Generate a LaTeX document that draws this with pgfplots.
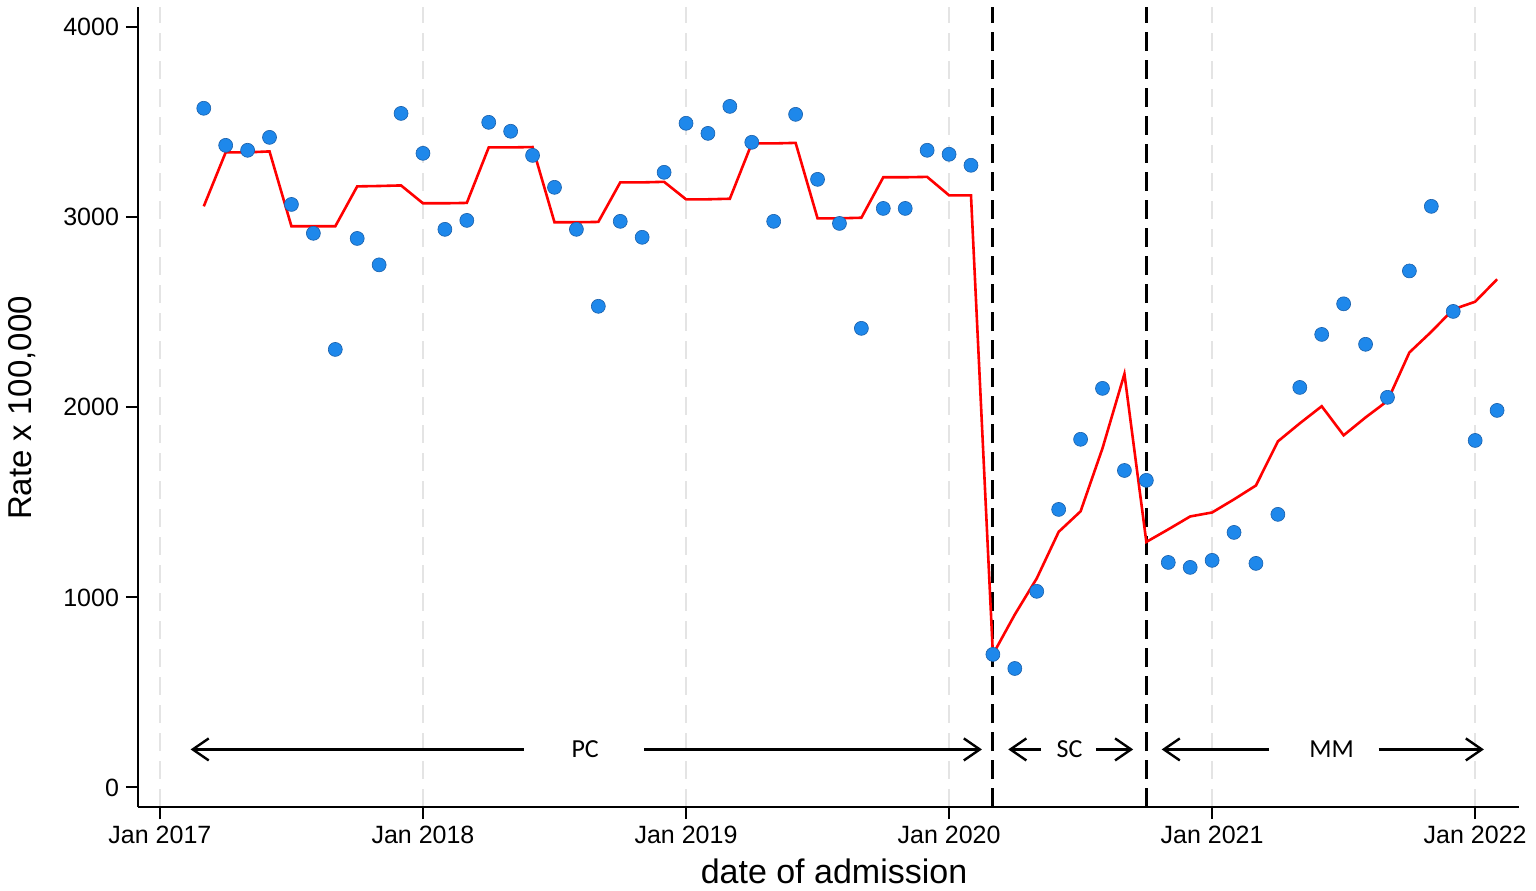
\documentclass[border=0pt]{standalone}
\usepackage{fontspec}
\setmainfont{Liberation Sans}
\newfontfamily\calibri{Carlito}
\usepackage{pgfplots}
\usepackage{pgfplotstable}
\pgfplotsset{compat=1.18}
\usetikzlibrary{arrows.meta}
\definecolor{dotblue}{RGB}{30,136,235}
\definecolor{dotedge}{RGB}{25,95,170}
\definecolor{gridgray}{RGB}{228,228,228}

\pgfplotstableread{
m v
2 3574
3 3379
4 3353
5 3421
6 3068
7 2916
8 2305
9 2889
10 2750
11 3547
12 3337
13 2937
14 2984
15 3500
16 3453
17 3326
18 3158
19 2937
20 2532
21 2979
22 2895
23 3237
24 3495
25 3442
26 3584
27 3395
28 2979
29 3542
30 3200
31 2968
32 2416
33 3047
34 3047
35 3353
36 3332
37 3274
38 700
39 626
40 1032
41 1463
42 1832
43 2100
44 1668
45 1616
46 1184
47 1158
48 1195
49 1342
50 1179
51 1437
52 2105
53 2384
54 2545
55 2332
56 2053
57 2718
58 3058
59 2505
60 1826
61 1984
}\observed

\pgfplotstableread{
m v
2 3058
3 3342
4 3342
5 3347
6 2953
7 2953
8 2953
9 3163
10 3165
11 3168
12 3074
13 3074
14 3076
15 3368
16 3368
17 3370
18 2974
19 2974
20 2976
21 3184
22 3184
23 3187
24 3095
25 3095
26 3098
27 3389
28 3389
29 3392
30 2995
31 2995
32 2998
33 3211
34 3211
35 3213
36 3116
37 3116
38 700
39 910
40 1100
41 1345
42 1453
43 1785
44 2176
45 1292
46 1358
47 1426
48 1447
49 1516
50 1589
51 1821
52 1916
53 2006
54 1853
55 1947
56 2034
57 2289
58 2398
59 2516
60 2556
61 2674
}\fitted

\begin{document}
\begin{tikzpicture}
\begin{axis}[
  at={(0,0)}, anchor=south west,
  scale only axis, width=690.5pt, height=400pt,
  xmin=-1, xmax=62, ymin=-103, ymax=4107,
  axis x line*=bottom, axis y line*=left,
  axis line style={line width=1pt, -},
  xtick={0,12,24,36,48,60},
  xticklabels={Jan 2017,Jan 2018,Jan 2019,Jan 2020,Jan 2021,Jan 2022},
  ytick={0,1000,2000,3000,4000},
  tick align=outside, major tick length=6pt,
  tick style={line width=1pt, black},
  /pgf/number format/1000 sep={},
  /pgf/number format/assume math mode=true,
  ticklabel style={font=\fontsize{12.5}{15}\selectfont},
  xmajorgrids, grid style={gridgray, line width=1pt, dash pattern=on 9pt off 5pt},
  clip=false,
]
% reference lines
\draw[black, line width=1.5pt, dash pattern=on 9.5pt off 4.5pt] (axis cs:38,-103) -- (axis cs:38,4107);
\draw[black, line width=1.5pt, dash pattern=on 9.5pt off 4.5pt] (axis cs:45,-103) -- (axis cs:45,4107);
% period arrows
\draw[line width=1.2pt, -{Straight Barb[length=8pt,width=11pt]}] (axis cs:16.6,200) -- (axis cs:1.4,200);
\draw[line width=1.2pt, -{Straight Barb[length=8pt,width=11pt]}] (axis cs:22.1,200) -- (axis cs:37.5,200);
\node[font=\calibri\fontsize{13}{15}\selectfont] at (axis cs:19.4,200) {PC};
\draw[line width=1.2pt, -{Straight Barb[length=8pt,width=11pt]}] (axis cs:40.2,200) -- (axis cs:38.7,200);
\draw[line width=1.2pt, -{Straight Barb[length=8pt,width=11pt]}] (axis cs:42.7,200) -- (axis cs:44.4,200);
\node[font=\calibri\fontsize{13}{15}\selectfont] at (axis cs:41.5,200) {SC};
\draw[line width=1.2pt, -{Straight Barb[length=8pt,width=11pt]}] (axis cs:50.6,200) -- (axis cs:45.7,200);
\draw[line width=1.2pt, -{Straight Barb[length=8pt,width=11pt]}] (axis cs:55.6,200) -- (axis cs:60.4,200);
\node[font=\calibri\fontsize{13}{15}\selectfont] at (axis cs:53.45,200) {MM};
% data
\addplot[only marks, mark=*, mark size=3.5pt, mark options={fill=dotblue, draw=dotedge, line width=0.3pt}] table[x=m, y=v] {\observed};
\addplot[red, line width=1.3pt, no marks] table[x=m, y=v] {\fitted};
\end{axis}
\node[anchor=base, font=\fontsize{17}{20}\selectfont] at (348pt,-38pt) {date of admission};
\node[anchor=base, rotate=90, font=\fontsize{16.5}{20}\selectfont] at (-53pt,199.5pt) {Rate x 100,000};
\pgfresetboundingbox
\path (-69pt,-41.5pt) rectangle (699pt,403.5pt);
\end{tikzpicture}
\end{document}
